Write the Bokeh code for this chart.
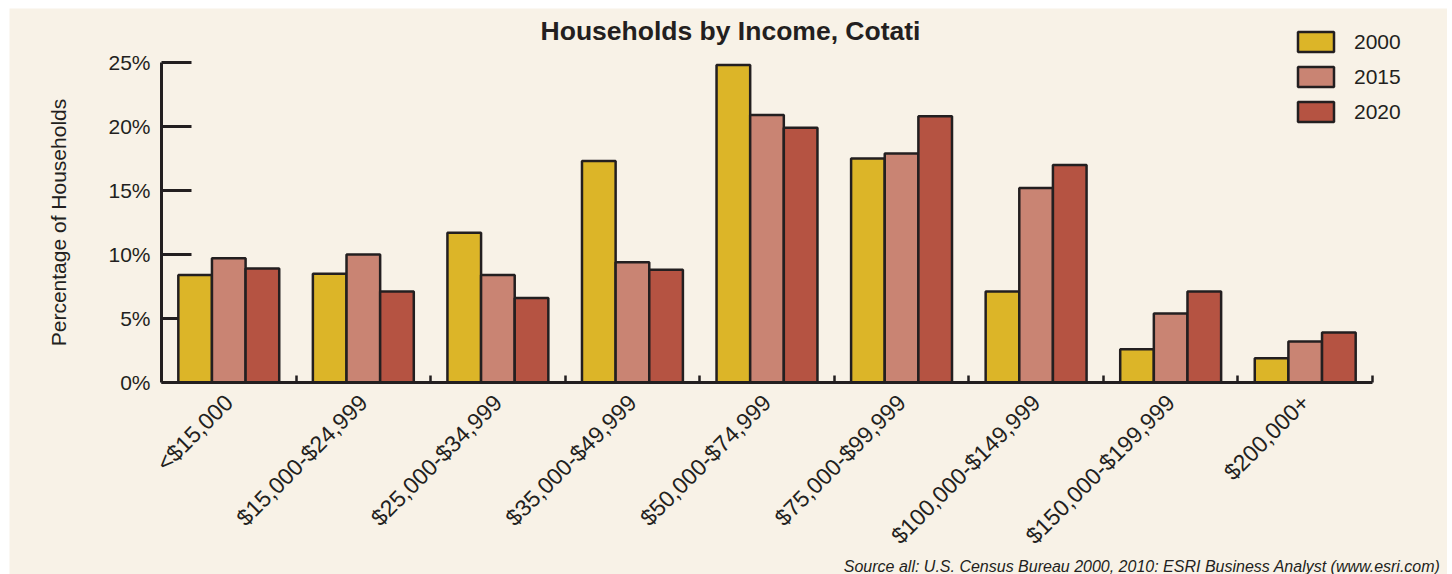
import numpy as np
from bokeh.plotting import figure
from bokeh.models import (ColumnDataSource, FixedTicker, Label, Legend, LegendItem,
                          Range1d, CustomJSTickFormatter)
from bokeh.embed import file_html
from bokeh.resources import INLINE

categories = ["<$15,000", "$15,000-$24,999", "$25,000-$34,999", "$35,000-$49,999",
              "$50,000-$74,999", "$75,000-$99,999", "$100,000-$149,999",
              "$150,000-$199,999", "$200,000+"]
years = ["2000", "2015", "2020"]
v2000 = [8.4, 8.5, 11.7, 17.3, 24.8, 17.5, 7.1, 2.6, 1.9]
v2015 = [9.7, 10.0, 8.4, 9.4, 20.9, 17.9, 15.2, 5.4, 3.2]
v2020 = [8.9, 7.1, 6.6, 8.8, 19.9, 20.8, 17.0, 7.1, 3.9]
y_ticks = [0, 5, 10, 15, 20, 25]
y_max = 25

FONT = "Liberation Sans"
INK = "#231F20"
BG = "#F8F2E7"
colors = ["#DCB528", "#C98473", "#B55342"]

n = len(categories)
centers = np.arange(n) + 0.5
bar_w = 0.25
offsets = [-bar_w, 0.0, bar_w]

# The frame covers the whole figure; axes sit at fixed locations inside it,
# so every annotation lies within the frame.
W, H = 1438, 566
ox, oy = 152, 192            # pixel position of the data origin inside the figure
px_x = 1211 / n              # pixels per category
px_y = 320 / y_max           # pixels per percent
x_rng = Range1d(-ox / px_x, (W - ox) / px_x)
y_rng = Range1d(-oy / px_y, (H - oy) / px_y)

p = figure(width=W, height=H, output_backend="svg", toolbar_location=None,
           x_range=x_rng, y_range=y_rng,
           min_border_left=0, min_border_right=0, min_border_top=0,
           min_border_bottom=0, margin=(8, 5, 0, 9))
p.background_fill_color = BG
p.border_fill_color = BG
p.outline_line_color = None
p.grid.visible = False

# y ticks drawn under the bars (inward, 30px)
p.segment(x0=0, x1=30 / px_x, y0=y_ticks, y1=y_ticks, line_color=INK,
          line_width=3, level="underlay")

renderers = []
for vals, col, off in zip([v2000, v2015, v2020], colors, offsets):
    src = ColumnDataSource(dict(x=centers + off, top=vals))
    r = p.vbar(x="x", top="top", width=bar_w, bottom=0, source=src,
               fill_color=col, line_color=INK, line_width=2.5)
    renderers.append(r)

# x axis
xa = p.xaxis[0]
xa.fixed_location = 0
xa.bounds = (0, n)
xa.ticker = FixedTicker(ticks=list(centers), minor_ticks=list(np.arange(1, n + 1)))
xa.major_label_overrides = {float(c): lab for c, lab in zip(centers, categories)}
xa.major_tick_in = 0
xa.major_tick_out = 0
xa.minor_tick_in = 7
xa.minor_tick_out = 0
xa.minor_tick_line_color = INK
xa.minor_tick_line_width = 2.5
xa.axis_line_color = INK
xa.axis_line_width = 3
xa.major_label_orientation = np.pi / 4
xa.major_label_text_font = FONT
xa.major_label_text_font_size = "23px"
xa.major_label_text_color = INK
xa.major_label_standoff = 16

# y axis
ya = p.yaxis[0]
ya.fixed_location = 0
ya.bounds = (0, y_max)
ya.ticker = FixedTicker(ticks=y_ticks)
ya.formatter = CustomJSTickFormatter(code="return tick.toFixed(0) + '%';")
ya.major_tick_in = 0
ya.major_tick_out = 0
ya.minor_tick_line_color = None
ya.axis_line_color = INK
ya.axis_line_width = 3
ya.major_label_text_font = FONT
ya.major_label_text_font_size = "21px"
ya.major_label_text_color = INK
ya.major_label_standoff = 11

# y axis title
p.add_layout(Label(x=49, y=352, x_units="screen", y_units="screen", angle=np.pi / 2,
                   text="Percentage of Households", text_font=FONT,
                   text_font_size="21px", text_color=INK,
                   text_align="center", text_baseline="middle"))

# chart title
p.add_layout(Label(x=721, y=544, x_units="screen", y_units="screen",
                   text="Households by Income, Cotati", text_font=FONT,
                   text_font_size="26.5px", text_font_style="bold", text_color=INK,
                   text_align="center", text_baseline="middle"))

# source note
p.add_layout(Label(x=1431, y=8, x_units="screen", y_units="screen",
                   text="Source all: U.S. Census Bureau 2000, 2010: ESRI Business Analyst (www.esri.com)",
                   text_font=FONT, text_font_size="16px", text_font_style="italic",
                   text_color=INK, text_align="right", text_baseline="middle"))

legend = Legend(items=[LegendItem(label=y, renderers=[r]) for y, r in zip(years, renderers)],
                location=(1284, 450), glyph_width=45, glyph_height=25, label_height=25,
                spacing=10, padding=0, margin=0, label_standoff=16,
                label_text_font=FONT, label_text_font_size="21px", label_text_color=INK,
                background_fill_alpha=0, border_line_color=None)
p.add_layout(legend)

open("out.html", "w").write(file_html(p, INLINE))
